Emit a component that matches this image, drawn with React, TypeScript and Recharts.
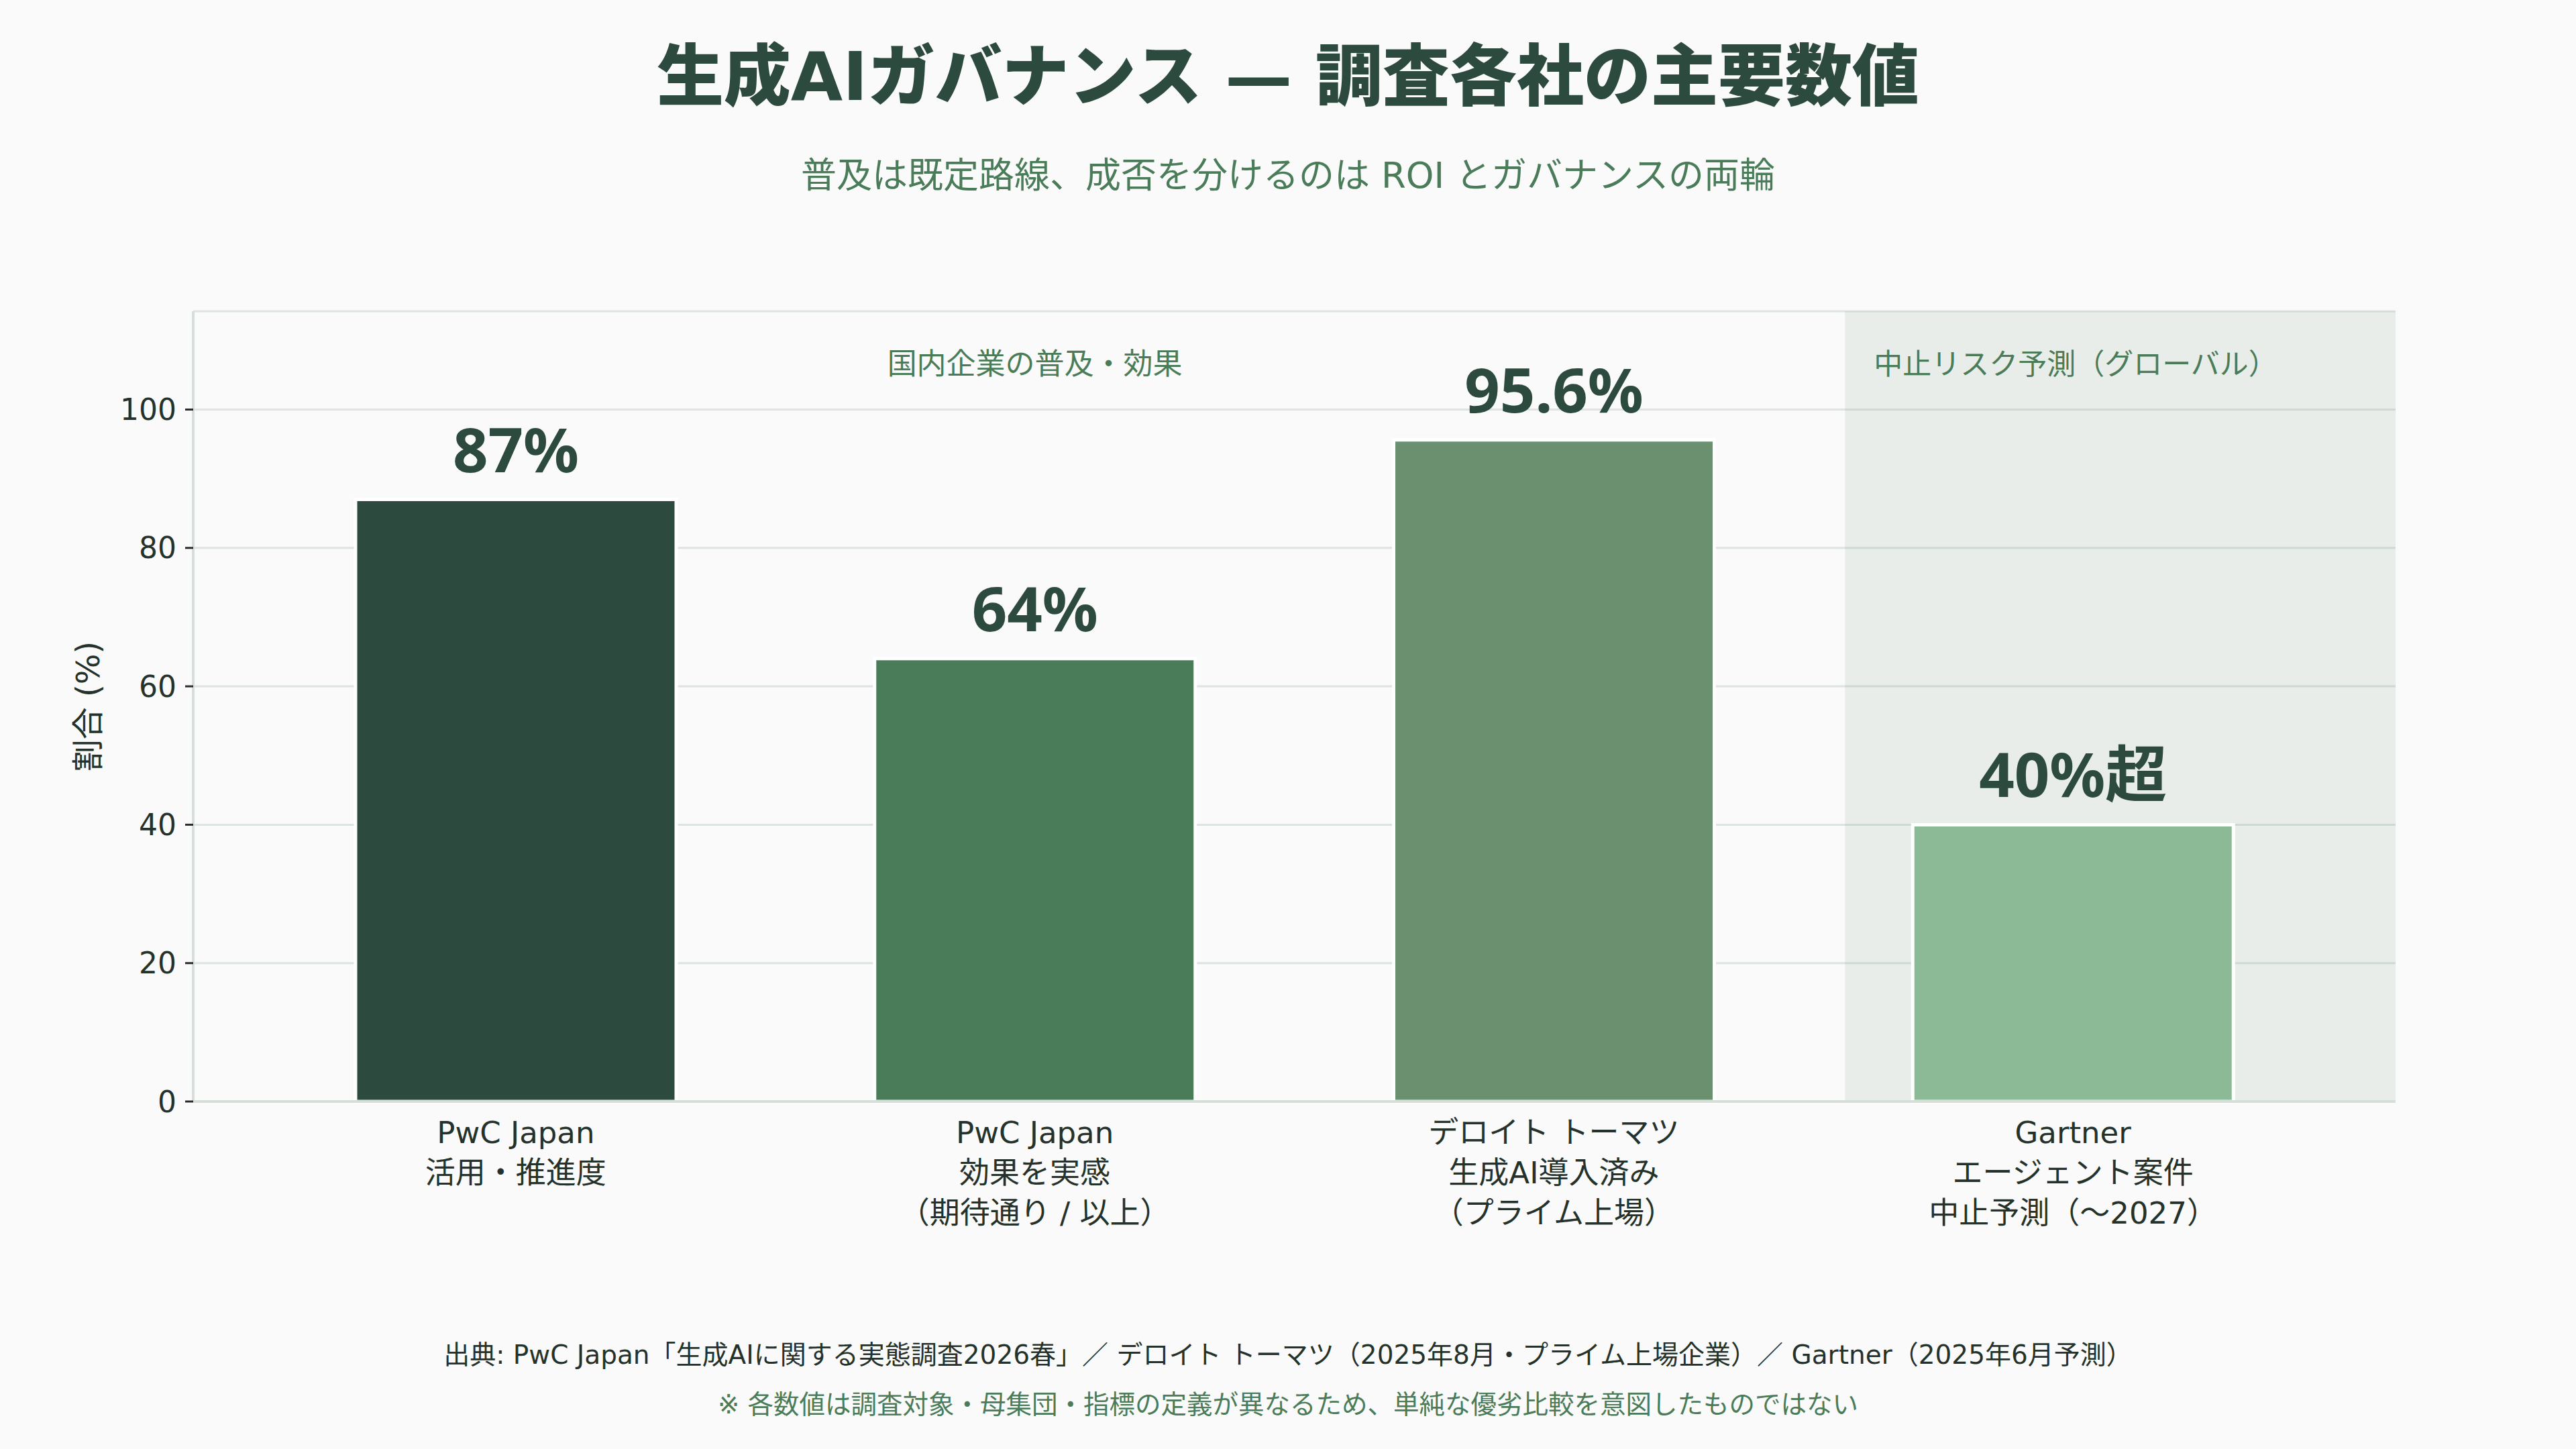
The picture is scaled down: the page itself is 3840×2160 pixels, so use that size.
import React from 'react';
import {
  BarChart,
  Bar,
  XAxis,
  YAxis,
  CartesianGrid,
  Cell,
  LabelList,
  ReferenceArea,
  ReferenceLine,
} from 'recharts';

const categories = ['pwc-use', 'pwc-effect', 'deloitte', 'gartner'];
const categoryLines: string[][] = [
  ['PwC Japan', '活用・推進度'],
  ['PwC Japan', '効果を実感', '（期待通り / 以上）'],
  ['デロイト トーマツ', '生成AI導入済み', '（プライム上場）'],
  ['Gartner', 'エージェント案件', '中止予測（〜2027）'],
];
const values = [87, 64, 95.6, 40];
const valueLabels = ['87%', '64%', '95.6%', '40%超'];
const barColors = ['#2d4a3e', '#4a7c59', '#6b9070', '#8cb996'];
const yTicks = [0, 20, 40, 60, 80, 100];
const positions = [0.5, 1.5, 2.5, 3.5];
const groupLabels = ['国内企業の普及・効果', '中止リスク予測（グローバル）'];

const title = '生成AIガバナンス — 調査各社の主要数値';
const subtitle = '普及は既定路線、成否を分けるのは ROI とガバナンスの両輪';
const sourceText =
  '出典: PwC Japan「生成AIに関する実態調査2026春」／ デロイト トーマツ（2025年8月・プライム上場企業）／ Gartner（2025年6月予測）';
const noteText = '※ 各数値は調査対象・母集団・指標の定義が異なるため、単純な優劣比較を意図したものではない';

const data = categories.map((c, i) => ({
  key: c,
  value: values[i],
  label: valueLabels[i],
  pos: positions[i],
}));

const FONT = "'DejaVu Sans', 'Noto Sans CJK JP', sans-serif";
const VALUE_FONT = "'Noto Sans', 'Noto Sans CJK JP', sans-serif";
const DARK = '#2d4a3e';
const GREEN = '#4a7c59';
const TEXT = '#25322b';

const CatTick = (props: any) => {
  const { x, y, payload } = props;
  const idx = categories.indexOf(payload.value);
  const lines = categoryLines[idx] || [];
  return (
    <g>
      {lines.map((l, i) => (
        <text
          key={i}
          x={x}
          y={y + 62 + i * 60}
          textAnchor="middle"
          fill={TEXT}
          fontSize={45}
          fontFamily={FONT}
        >
          {l}
        </text>
      ))}
    </g>
  );
};

const LeftGroupLabel = (props: any) => {
  const vb = props.viewBox || {};
  return (
    <text
      x={vb.x}
      y={(vb.y || 0) + 94}
      textAnchor="middle"
      fill={GREEN}
      fontSize={44}
      fontFamily={FONT}
    >
      {groupLabels[0]}
    </text>
  );
};

const RightGroupLabel = (props: any) => {
  const vb = props.viewBox || {};
  return (
    <text
      x={(vb.x || 0) + 43}
      y={(vb.y || 0) + 94}
      textAnchor="start"
      fill={GREEN}
      fontSize={43}
      fontFamily={FONT}
    >
      {groupLabels[1]}
    </text>
  );
};

export default function App() {
  return (
    <div
      style={{
        position: 'absolute',
        left: 0,
        top: 0,
        width: 3840,
        height: 2160,
        background: '#fafafa',
        fontFamily: FONT,
        overflow: 'hidden',
      }}
    >
      <div
        style={{
          position: 'absolute',
          left: 0,
          width: 3840,
          top: 63,
          height: 104,
          lineHeight: '104px',
          textAlign: 'center',
          fontSize: 100,
          fontWeight: 900,
          color: DARK,
        }}
      >
        {title}
      </div>
      <div
        style={{
          position: 'absolute',
          left: 0,
          width: 3840,
          top: 235,
          height: 54,
          lineHeight: '54px',
          textAlign: 'center',
          fontSize: 53,
          color: GREEN,
        }}
      >
        {subtitle}
      </div>
      <div
        style={{
          position: 'absolute',
          left: 91,
          top: 1053,
          width: 0,
          height: 0,
        }}
      >
        <div
          style={{
            position: 'absolute',
            left: -150,
            top: -25,
            width: 300,
            height: 50,
            lineHeight: '50px',
            textAlign: 'center',
            fontSize: 48,
            color: TEXT,
            transform: 'translateX(40px) rotate(-90deg)',
            whiteSpace: 'nowrap',
          }}
        >
          割合 (%)
        </div>
      </div>
      <div style={{ position: 'absolute', left: 0, top: 0 }}>
        <BarChart
          width={3840}
          height={2160}
          data={data}
          margin={{ top: 464, right: 269, left: 108, bottom: 318 }}
        >
          <CartesianGrid vertical={false} stroke="#dde4df" strokeWidth={3} />
          <XAxis
            xAxisId="bg"
            dataKey="pos"
            type="number"
            domain={[0, 4]}
            allowDataOverflow
            hide
            height={0}
            orientation="top"
          />
          <XAxis
            xAxisId="cat"
            dataKey="key"
            padding={{ left: 94, right: 94 }}
            tick={<CatTick />}
            tickLine={false}
            tickSize={0}
            tickMargin={0}
            height={200}
            axisLine={{ stroke: '#d6ded8', strokeWidth: 4 }}
            interval={0}
          />
          <YAxis
            width={180}
            domain={[0, 114.2]}
            ticks={yTicks}
            tick={{ fill: TEXT, fontSize: 44, fontFamily: FONT }}
            tickLine={{ stroke: '#2b2b2b', strokeWidth: 3 }}
            tickSize={12}
            tickMargin={13}
            axisLine={{ stroke: '#d6ded8', strokeWidth: 4 }}
          />
          <ReferenceArea
            xAxisId="bg"
            x1={3}
            x2={4}
            fill={GREEN}
            fillOpacity={0.1}
            stroke="none"
            ifOverflow="visible"
            label={<RightGroupLabel />}
          />
          <ReferenceLine
            xAxisId="cat"
            x={categories[1]}
            stroke="none"
            label={<LeftGroupLabel />}
          />
          <Bar
            xAxisId="cat"
            dataKey="value"
            barSize={478}
            stroke="#ffffff"
            strokeWidth={5}
            isAnimationActive={false}
          >
            {data.map((d, i) => (
              <Cell key={d.key} fill={barColors[i]} />
            ))}
            <LabelList
              dataKey="label"
              position="top"
              offset={41}
              fill={DARK}
              fontSize={92}
              fontWeight={700}
              fontFamily={VALUE_FONT}
            />
          </Bar>
        </BarChart>
      </div>
      <div
        style={{
          position: 'absolute',
          left: 0,
          width: 3840,
          top: 2000,
          height: 40,
          lineHeight: '40px',
          textAlign: 'center',
          fontSize: 39,
          color: TEXT,
        }}
      >
        {sourceText}
      </div>
      <div
        style={{
          position: 'absolute',
          left: 0,
          width: 3840,
          top: 2074,
          height: 40,
          lineHeight: '40px',
          textAlign: 'center',
          fontSize: 38.5,
          color: GREEN,
        }}
      >
        {noteText}
      </div>
    </div>
  );
}
